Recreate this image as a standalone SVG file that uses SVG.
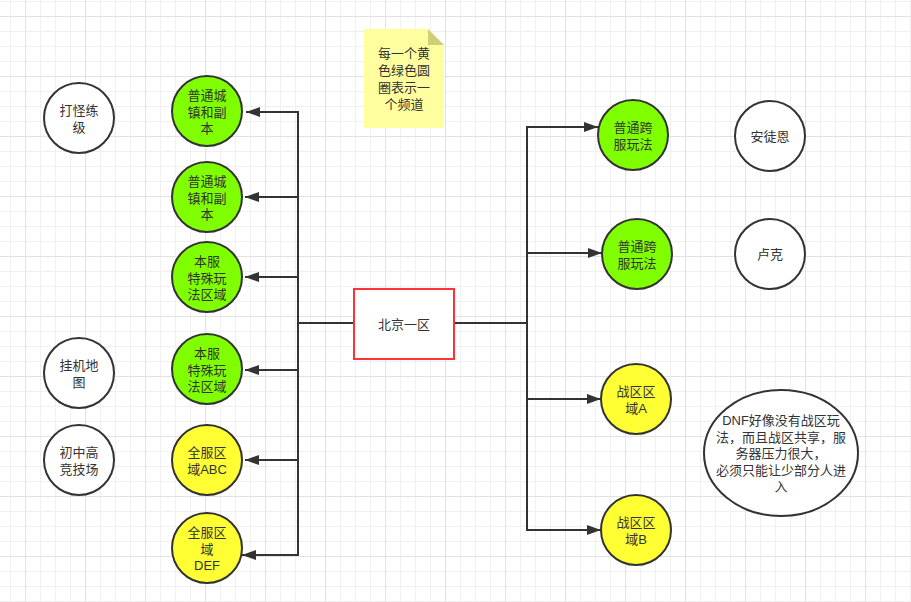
<svg xmlns="http://www.w3.org/2000/svg" width="911" height="602" viewBox="0 0 911 602">
<style>
text{font-family:"Liberation Sans","Noto Sans CJK SC",sans-serif;font-size:13px;fill:#333;text-anchor:middle}
.c{stroke:#333;stroke-width:2}
.g{fill:#80ff00}
.y{fill:#ffff33}
.w{fill:#fff}
.e{fill:none;stroke:#333;stroke-width:2}
</style>
<defs>
<pattern id="grid" patternUnits="userSpaceOnUse" x="25" y="16" width="60" height="60">
<path d="M15.5 0V60M30.5 0V60M45.5 0V60M0 15.5H60M0 30.5H60M0 45.5H60" stroke="#f0f0f0" stroke-width="1" fill="none"/>
<path d="M0.5 0V60M0 0.5H60" stroke="#e2e2e2" stroke-width="1" fill="none"/>
</pattern>
<marker id="arr" viewBox="0 0 14 10" refX="14" refY="5" markerWidth="14" markerHeight="10" markerUnits="userSpaceOnUse" orient="auto">
<path d="M0,0 L14,5 L0,10 z" fill="#333"/>
</marker>
</defs>
<rect width="911" height="602" fill="#fff"/>
<rect width="911" height="602" fill="url(#grid)"/>

<g id="connectors">
<path class="e" d="M354 323H298V112H246" marker-end="url(#arr)"/>
<path class="e" d="M354 323H298V197H245" marker-end="url(#arr)"/>
<path class="e" d="M354 323H298V277H245" marker-end="url(#arr)"/>
<path class="e" d="M354 323H298V370H245" marker-end="url(#arr)"/>
<path class="e" d="M354 323H298V460H245" marker-end="url(#arr)"/>
<path class="e" d="M354 323H298V555H242" marker-end="url(#arr)"/>
<path class="e" d="M454 323H527V127H598" marker-end="url(#arr)"/>
<path class="e" d="M454 323H527V253H602" marker-end="url(#arr)"/>
<path class="e" d="M454 323H527V399H601" marker-end="url(#arr)"/>
<path class="e" d="M454 323H527V530H601" marker-end="url(#arr)"/>
</g>

<g id="note">
<path d="M364 29H428L444 45V128H364Z" fill="#ffff9f"/>
<path d="M428 29L444 45H428Z" fill="#cfcf79"/>
<text x="404" y="58">每一个黄</text>
<text x="404" y="75">色绿色圆</text>
<text x="404" y="92">圈表示一</text>
<text x="404" y="109">个频道</text>
</g>

<g id="beijing">
<rect x="354" y="289" width="100" height="70" fill="#fff" stroke="#ff3333" stroke-width="2"/>
<text x="404" y="329">北京一区</text>
</g>

<g id="l1"><circle class="c g" cx="207" cy="111" r="35"/>
<text x="207" y="100">普通城</text><text x="207" y="117">镇和副</text><text x="207" y="133">本</text></g>
<g id="l2"><circle class="c g" cx="207" cy="197" r="35"/>
<text x="207" y="186">普通城</text><text x="207" y="203">镇和副</text><text x="207" y="219">本</text></g>
<g id="l3"><circle class="c g" cx="207" cy="277" r="35"/>
<text x="207" y="266">本服</text><text x="207" y="283">特殊玩</text><text x="207" y="299">法区域</text></g>
<g id="l4"><circle class="c g" cx="207" cy="369" r="35"/>
<text x="207" y="358">本服</text><text x="207" y="375">特殊玩</text><text x="207" y="391">法区域</text></g>
<g id="l5"><circle class="c y" cx="207" cy="460" r="35"/>
<text x="207" y="457">全服区</text><text x="207" y="474">域ABC</text></g>
<g id="l6"><circle class="c y" cx="207" cy="548" r="35"/>
<text x="207" y="537">全服区</text><text x="207" y="554">域</text><text x="207" y="570">DEF</text></g>

<g id="r1"><circle class="c g" cx="633" cy="135" r="35"/>
<text x="633" y="132">普通跨</text><text x="633" y="149">服玩法</text></g>
<g id="r2"><circle class="c g" cx="637" cy="254" r="35"/>
<text x="637" y="251">普通跨</text><text x="637" y="268">服玩法</text></g>
<g id="r3"><circle class="c y" cx="636" cy="399" r="35"/>
<text x="636" y="396">战区区</text><text x="636" y="413">域A</text></g>
<g id="r4"><circle class="c y" cx="636" cy="530" r="35"/>
<text x="636" y="527">战区区</text><text x="636" y="544">域B</text></g>

<g id="w1"><circle class="c w" cx="79" cy="118" r="35"/>
<text x="79" y="115">打怪练</text><text x="79" y="132">级</text></g>
<g id="w2"><circle class="c w" cx="79" cy="373" r="35"/>
<text x="79" y="370">挂机地</text><text x="79" y="387">图</text></g>
<g id="w3"><circle class="c w" cx="79" cy="460" r="35"/>
<text x="79" y="457">初中高</text><text x="79" y="474">竞技场</text></g>
<g id="w4"><circle class="c w" cx="770" cy="136" r="35"/>
<text x="770" y="141">安徒恩</text></g>
<g id="w5"><circle class="c w" cx="770" cy="254" r="35"/>
<text x="770" y="259">卢克</text></g>

<g id="dnf"><ellipse class="c w" cx="781" cy="453" rx="77" ry="63"/>
<text x="781" y="425">DNF好像没有战区玩</text>
<text x="781" y="442">法，而且战区共享，服</text>
<text x="781" y="458">务器压力很大，</text>
<text x="781" y="475">必须只能让少部分人进</text>
<text x="781" y="491">入</text></g>
</svg>
